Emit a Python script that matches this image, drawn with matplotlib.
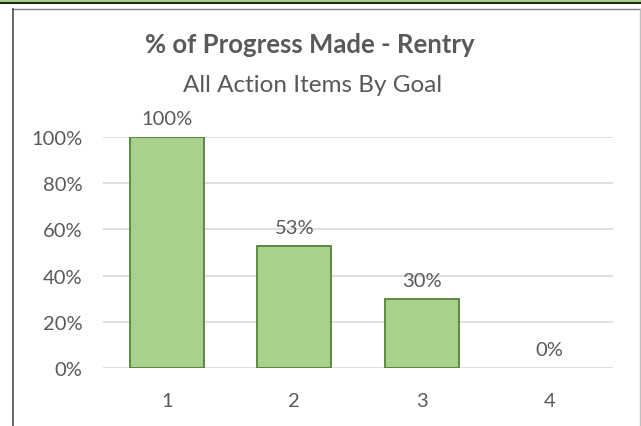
import matplotlib.pyplot as plt
from matplotlib.patches import Rectangle
from matplotlib.lines import Line2D

# chart data
goals = ['1', '2', '3', '4']
progress = [1.00, 0.53, 0.30, 0.00]
y_ticks = [0, 0.2, 0.4, 0.6, 0.8, 1.0]
y_labels = ['0%', '20%', '40%', '60%', '80%', '100%']

W, H = 641, 427
fig = plt.figure(figsize=(W / 100, H / 100), dpi=100)
plt.rcParams['font.family'] = ['Lato', 'DejaVu Sans']

# frame pieces around the screenshot
fig.patches.append(Rectangle((0, 1 - 3 / H), 1, 3 / H, transform=fig.transFigure,
                             color='#A9D18E', zorder=0))
fig.lines.append(Line2D([0, 1], [1 - 4 / H] * 2, transform=fig.transFigure,
                        color='#1F2A14', lw=1.5))
fig.lines.append(Line2D([12 / W, 1], [1 - 9.5 / H] * 2, transform=fig.transFigure,
                        color='#7F7F7F', lw=1))
fig.lines.append(Line2D([12.5 / W] * 2, [0, 1 - 9.5 / H], transform=fig.transFigure,
                        color='#595959', lw=1.3))
fig.lines.append(Line2D([639.5 / W] * 2, [0, 1 - 9.5 / H], transform=fig.transFigure,
                        color='#BFBFBF', lw=1))

ax = fig.add_axes([103 / W, 1 - 369 / H, 510 / W, 231 / H])
x = list(range(len(goals)))
edges = ['#548235' if v > 0 else 'none' for v in progress]
ax.bar(x, progress, width=0.58, color='#A9D18E', edgecolor=edges,
       linewidth=1.3, zorder=3)
ax.set_xlim(-0.5, 3.5)
ax.set_ylim(0, 1.0)
ax.set_yticks(y_ticks)
ax.set_yticklabels(y_labels)
ax.set_xticks(x)
ax.set_xticklabels(goals)
ax.tick_params(length=0, labelsize=14.5, colors='#595959')
ax.tick_params(axis='y', pad=15)
ax.tick_params(axis='x', pad=17)
ax.grid(axis='y', color='#D9D9D9', lw=1.2, zorder=0)
ax.set_axisbelow(True)
for s in ax.spines.values():
    s.set_visible(False)

for xi, v in zip(x, progress):
    ax.annotate(f'{v:.0%}', (xi, v), xytext=(0, 7), textcoords='offset points',
                ha='center', va='bottom', fontsize=14.5, color='#595959')

fig.text(310 / W, 1 - 45 / H, '% of Progress Made - Rentry', ha='center', va='center',
         fontsize=18.5, fontweight='bold', color='#595959')
fig.text(313 / W, 1 - 86 / H, 'All Action Items By Goal', ha='center', va='center',
         fontsize=17.5, color='#595959')

fig.savefig('out.png', dpi=100)
